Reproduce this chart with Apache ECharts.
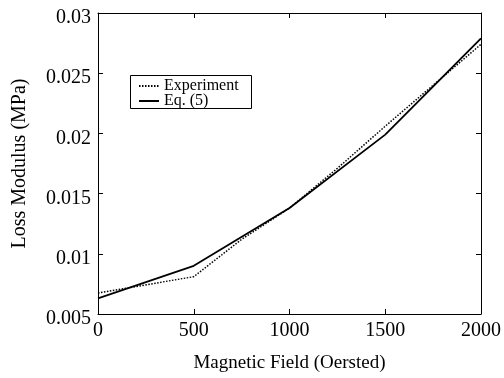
<!DOCTYPE html>
<html>
<head>
<meta charset="utf-8">
<script src="https://cdn.jsdelivr.net/npm/echarts@6/dist/echarts.min.js"></script>
<style>
html,body{margin:0;padding:0;background:#fff;}
#c{width:504px;height:378px;}
</style>
</head>
<body>
<div id="c"></div>
<script>
const expField = [0, 500, 750, 1000, 1250, 1500, 1750, 2000];
const expValues = [0.00675, 0.0081, 0.0112, 0.0138, 0.0171, 0.0206, 0.0240, 0.0274];
const eqField = [0, 500, 1000, 1500, 2000];
const eqValues = [0.0063, 0.0090, 0.0138, 0.0199, 0.0279];
const seriesNames = ['Experiment', 'Eq. (5)'];
const xTitle = 'Magnetic Field (Oersted)';
const yTitle = 'Loss Modulus (MPa)';

const font = 'Liberation Serif, Times New Roman, serif';
const chart = echarts.init(document.getElementById('c'));
const zip = (a, b) => a.map((v, i) => [v, b[i]]);
const axisCommon = () => ({
  axisLine: { show: true, onZero: false, lineStyle: { color: '#000', width: 1 } },
  axisTick: { show: true, inside: true, length: 5, lineStyle: { color: '#000' } },
  splitLine: { show: false }
});
chart.setOption({
  animation: false,
  backgroundColor: '#fff',
  grid: { left: 98, right: 20, top: 13, bottom: 60 },
  graphic: [{
    type: 'rect', left: 130, top: 75, z: 90,
    shape: { width: 121, height: 33 },
    style: { fill: '#fff', stroke: '#000', lineWidth: 1 }
  }],
  legend: {
    left: 138, top: 78, z: 100,
    orient: 'vertical',
    itemWidth: 20, itemHeight: 10, itemGap: -1,
    padding: 0,
    itemStyle: { opacity: 0 },
    textStyle: { fontFamily: font, fontSize: 16, color: '#000' },
    data: seriesNames
  },
  xAxis: [
    Object.assign(axisCommon(), {
      type: 'value', min: 0, max: 2000, interval: 500,
      name: xTitle, nameLocation: 'middle', nameGap: 40,
      nameTextStyle: { fontFamily: font, fontSize: 19, color: '#000' },
      axisLabel: { fontFamily: font, fontSize: 20, color: '#000', margin: 7,
        formatter: v => String(v) }
    }),
    Object.assign(axisCommon(), {
      type: 'value', min: 0, max: 2000, interval: 500, position: 'top',
      axisLabel: { show: false }
    })
  ],
  yAxis: [
    Object.assign(axisCommon(), {
      type: 'value', min: 0.005, max: 0.03, interval: 0.005,
      name: yTitle, nameLocation: 'middle', nameGap: 68,
      nameTextStyle: { fontFamily: font, fontSize: 20, color: '#000' },
      axisLabel: { fontFamily: font, fontSize: 20, color: '#000', margin: 7,
        verticalAlign: 'top', lineHeight: 10,
        formatter: v => String(parseFloat(v.toFixed(3))) }
    }),
    Object.assign(axisCommon(), {
      type: 'value', min: 0.005, max: 0.03, interval: 0.005, position: 'right',
      axisLabel: { show: false }
    })
  ],
  series: [
    {
      name: seriesNames[0], type: 'line', symbol: 'none',
      data: zip(expField, expValues),
      lineStyle: { color: '#000', width: 1.5, type: [1.5, 1.5] },
      itemStyle: { color: '#000' }
    },
    {
      name: seriesNames[1], type: 'line', symbol: 'none',
      data: zip(eqField, eqValues),
      lineStyle: { color: '#000', width: 1.8, type: 'solid' },
      itemStyle: { color: '#000' }
    }
  ]
});
</script>
</body>
</html>
